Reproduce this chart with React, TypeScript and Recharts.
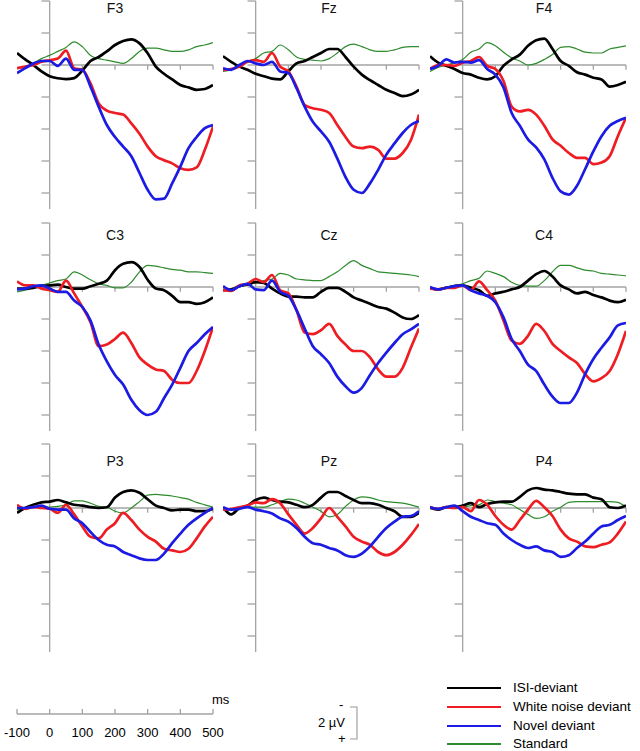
import { LineChart, Line, XAxis, YAxis, ReferenceLine } from "recharts";

// sample times (ms) shared by every panel
const TIMES = [-100, -75, -50, -25, 0, 25, 50, 75, 100, 125, 150, 175, 200, 225, 250, 275, 300, 325, 350, 375, 400, 425, 450, 475, 500];
const Y_TICKS = [-4, -2, 0, 2, 4, 6, 8];
const X_TICKS = [100, 200, 300, 400, 500];
const SCALE_TICKS = [-100, 0, 100, 200, 300, 400, 500];

// µV per electrode, negative plotted up
const F3 = {
  isi: [-0.75, -0.35, 0.0, 0.4, 0.7, 0.83, 0.88, 0.82, 0.35, -0.25, -0.5, -0.85, -1.25, -1.5, -1.6, -1.35, -0.73, 0.1, 0.55, 0.9, 1.25, 1.4, 1.55, 1.5, 1.25],
  white: [0.2, 0.1, 0.0, -0.2, -0.3, -0.4, -0.9, 0.2, 0.3, 1.15, 2.4, 2.85, 3.0, 3.1, 3.65, 4.3, 5.1, 5.7, 5.95, 6.15, 6.45, 6.55, 6.4, 5.3, 3.85],
  novel: [0.5, 0.2, -0.1, -0.25, -0.25, 0.05, -0.4, 0.3, 0.3, 1.35, 2.6, 3.75, 4.5, 5.1, 5.7, 6.75, 7.8, 8.4, 8.35, 7.4, 6.35, 5.2, 4.5, 3.95, 3.75],
  std: [0.5, 0.2, -0.1, -0.4, -0.6, -0.85, -1.1, -1.45, -1.15, -0.6, -0.4, -0.3, -0.2, -0.1, -0.4, -0.85, -1.05, -1.05, -0.95, -0.85, -0.85, -0.95, -1.15, -1.25, -1.4],
};
const Fz = {
  isi: [-0.55, -0.2, 0.1, 0.3, 0.55, 0.7, 0.85, 0.9, 0.4, -0.1, -0.25, -0.5, -0.75, -1.0, -1.0, -0.5, 0.1, 0.6, 0.95, 1.25, 1.55, 1.75, 1.95, 1.85, 1.55],
  white: [0.3, 0.25, 0.1, -0.2, -0.3, -0.2, -0.75, 0.1, 0.4, 1.35, 2.5, 2.7, 2.8, 3.0, 3.75, 4.5, 5.1, 5.2, 5.1, 5.3, 5.85, 5.85, 5.5, 4.7, 3.1],
  novel: [0.2, 0.3, 0.0, -0.25, -0.1, 0.0, -0.2, 0.4, 0.5, 1.45, 2.6, 3.55, 4.15, 4.8, 5.85, 7.0, 7.8, 8.0, 7.4, 6.55, 5.6, 4.9, 4.25, 3.75, 3.5],
  std: [0.4, 0.3, 0.1, -0.2, -0.4, -0.75, -0.85, -1.25, -0.95, -0.5, -0.35, -0.3, -0.25, -0.4, -0.75, -1.15, -1.3, -1.15, -0.95, -0.85, -0.85, -0.95, -1.1, -1.15, -1.15],
};
const F4 = {
  isi: [-0.55, -0.15, 0.05, 0.25, 0.5, 0.6, 0.8, 0.9, 0.7, 0.05, -0.35, -0.65, -1.2, -1.55, -1.65, -1.0, -0.25, 0.05, 0.45, 0.6, 0.8, 0.9, 1.35, 1.25, 1.05],
  white: [0.25, 0.0, 0.0, 0.05, -0.15, -0.25, -0.5, 0.05, 0.25, 1.0, 2.6, 2.9, 2.8, 3.1, 3.8, 4.65, 5.05, 5.5, 5.8, 5.8, 6.2, 6.1, 5.7, 4.45, 3.3],
  novel: [0.25, 0.05, -0.35, -0.15, -0.2, -0.15, -0.3, 0.25, 0.6, 1.4, 3.0, 3.8, 4.65, 5.15, 5.9, 7.05, 7.9, 8.1, 7.55, 6.5, 5.4, 4.45, 3.8, 3.5, 3.3],
  std: [0.4, 0.15, 0.0, -0.15, -0.35, -0.8, -1.0, -1.4, -1.2, -0.8, -0.45, -0.25, 0.0, -0.1, -0.35, -0.65, -1.1, -1.15, -1.0, -0.8, -0.75, -0.75, -1.0, -1.1, -1.2],
};
const C3 = {
  isi: [0.1, 0.1, 0.05, -0.05, -0.1, -0.15, 0.0, 0.1, 0.1, -0.05, -0.2, -0.4, -1.05, -1.45, -1.55, -1.25, -0.45, 0.1, 0.2, 0.55, 0.95, 0.95, 1.05, 0.95, 0.65],
  white: [-0.35, -0.1, -0.1, 0.1, 0.2, 0.3, -0.4, 0.4, 1.25, 2.2, 3.7, 3.6, 3.25, 2.85, 3.5, 4.4, 4.85, 5.15, 5.25, 5.8, 6.0, 6.0, 5.25, 4.0, 2.5],
  novel: [0.15, 0.1, -0.05, -0.1, 0.1, 0.3, 0.3, 0.85, 1.25, 2.1, 3.6, 4.65, 5.5, 6.1, 7.05, 7.7, 8.0, 7.8, 6.95, 6.1, 5.05, 4.0, 3.5, 2.95, 2.5],
  std: [0.3, 0.2, 0.05, -0.1, -0.25, -0.4, -0.5, -0.95, -0.75, -0.45, -0.2, -0.1, 0.05, 0.05, -0.3, -0.95, -1.35, -1.3, -1.2, -1.1, -1.05, -0.95, -0.95, -0.9, -0.85],
};
const Cz = {
  isi: [0.2, 0.15, -0.05, -0.15, -0.3, -0.25, 0.1, 0.4, 0.6, 0.6, 0.65, 0.65, 0.3, 0.05, 0.05, 0.3, 0.65, 0.85, 1.05, 1.25, 1.35, 1.6, 1.9, 2.0, 1.75],
  white: [0.2, 0.25, -0.1, -0.2, -0.5, -0.3, -0.75, 0.2, 0.4, 1.45, 2.85, 2.95, 2.7, 2.3, 3.05, 3.6, 4.0, 4.0, 4.4, 5.15, 5.6, 5.6, 5.05, 3.8, 2.6],
  novel: [-0.05, 0.2, -0.05, -0.2, 0.15, 0.2, -0.4, 0.3, 0.55, 1.45, 2.6, 3.7, 4.2, 4.75, 5.6, 6.2, 6.6, 6.3, 5.5, 4.75, 4.1, 3.5, 2.95, 2.65, 2.3],
  std: [0.15, 0.15, 0.0, -0.15, -0.25, -0.4, -0.5, -0.85, -0.75, -0.5, -0.45, -0.4, -0.4, -0.65, -0.95, -1.35, -1.65, -1.35, -1.15, -0.95, -0.9, -0.85, -0.8, -0.75, -0.65],
};
const C4 = {
  isi: [0.05, 0.15, 0.05, -0.05, -0.1, 0.05, 0.2, 0.55, 0.4, 0.3, 0.15, 0.0, -0.4, -0.8, -1.0, -0.65, -0.1, 0.15, 0.4, 0.3, 0.5, 0.65, 0.85, 0.95, 0.8],
  white: [0.1, 0.15, 0.05, 0.05, -0.1, 0.2, -0.35, 0.2, 0.85, 2.1, 3.35, 3.55, 3.05, 2.3, 2.75, 3.55, 4.0, 4.4, 4.75, 5.45, 5.9, 5.7, 5.25, 4.2, 2.75],
  novel: [0.0, 0.15, 0.05, -0.05, -0.1, 0.2, 0.4, 0.55, 0.95, 1.9, 3.25, 4.0, 4.85, 5.25, 6.1, 6.85, 7.25, 7.25, 6.6, 5.45, 4.5, 3.8, 3.15, 2.4, 2.25],
  std: [0.1, 0.1, 0.0, -0.1, -0.2, -0.4, -0.55, -1.0, -0.85, -0.65, -0.3, -0.1, -0.05, -0.05, -0.4, -0.95, -1.35, -1.35, -1.2, -1.05, -1.0, -0.85, -0.8, -0.75, -0.7],
};
const P3 = {
  isi: [0.3, 0.0, -0.2, -0.35, -0.4, -0.5, -0.35, -0.2, -0.15, -0.05, 0.0, -0.05, -0.65, -1.0, -1.1, -0.95, -0.55, -0.15, 0.0, 0.15, 0.1, 0.1, 0.2, 0.2, 0.05],
  white: [-0.2, 0.05, -0.05, 0.0, 0.05, 0.3, -0.2, 0.4, 1.15, 1.8, 1.9, 1.35, 0.95, 0.3, 0.75, 1.35, 1.8, 2.1, 2.55, 2.65, 2.75, 2.55, 1.9, 1.15, 0.55],
  novel: [0.0, 0.0, -0.05, -0.15, 0.05, 0.1, 0.1, 0.65, 0.95, 1.5, 2.0, 2.3, 2.4, 2.75, 2.95, 3.15, 3.25, 3.25, 2.85, 2.2, 1.6, 1.05, 0.65, 0.3, 0.0],
  std: [0.1, 0.05, -0.05, -0.05, -0.05, -0.1, -0.2, -0.45, -0.45, -0.3, -0.1, -0.05, 0.2, 0.3, 0.0, -0.4, -0.8, -0.85, -0.8, -0.75, -0.65, -0.55, -0.35, -0.2, -0.05],
};
const Pz = {
  isi: [-0.05, 0.4, 0.0, -0.15, -0.5, -0.65, -0.5, -0.4, -0.35, -0.2, -0.05, -0.2, -0.65, -1.0, -1.0, -0.75, -0.5, -0.3, -0.3, -0.2, 0.0, 0.2, 0.55, 0.55, 0.3],
  white: [0.1, 0.05, -0.05, -0.15, -0.35, -0.3, -0.55, -0.3, 0.4, 1.05, 1.6, 1.25, 0.65, 0.0, 0.55, 1.15, 1.8, 2.1, 2.3, 2.75, 2.95, 2.75, 2.3, 1.7, 1.0],
  novel: [-0.05, 0.1, 0.05, -0.05, 0.1, 0.2, 0.35, 0.65, 0.85, 1.25, 1.8, 2.2, 2.3, 2.5, 2.65, 2.95, 3.05, 2.85, 2.4, 1.8, 1.25, 0.85, 0.55, 0.5, 0.2],
  std: [0.1, 0.1, -0.05, -0.05, -0.05, -0.05, -0.2, -0.4, -0.55, -0.5, -0.3, -0.05, 0.2, 0.55, 0.4, -0.1, -0.5, -0.7, -0.65, -0.5, -0.4, -0.35, -0.3, -0.2, -0.05],
};
const P4 = {
  isi: [-0.05, 0.1, -0.05, -0.05, -0.15, -0.3, -0.05, -0.25, -0.35, -0.4, -0.4, -0.7, -1.1, -1.25, -1.15, -1.1, -1.0, -0.9, -0.85, -0.85, -0.65, -0.55, -0.05, 0.0, -0.15],
  white: [-0.05, 0.05, -0.05, 0.0, -0.05, 0.2, -0.5, -0.2, 0.5, 1.05, 1.35, 0.75, 0.1, -0.45, -0.05, 0.5, 1.35, 1.9, 2.1, 2.4, 2.45, 2.3, 2.15, 1.6, 0.85],
  novel: [-0.05, 0.05, -0.05, -0.15, 0.2, 0.55, 0.75, 0.95, 1.05, 1.6, 2.0, 2.3, 2.5, 2.4, 2.65, 2.75, 3.05, 2.95, 2.5, 2.1, 1.6, 1.15, 1.05, 0.75, 0.5],
  std: [0.05, 0.1, -0.05, 0.0, -0.05, -0.15, -0.2, -0.5, -0.4, -0.3, -0.2, 0.1, 0.4, 0.65, 0.55, 0.2, -0.05, -0.35, -0.4, -0.4, -0.4, -0.4, -0.4, -0.35, -0.05],
};

const PANELS: [string, any][] = [
  ["F3", F3], ["Fz", Fz], ["F4", F4],
  ["C3", C3], ["Cz", Cz], ["C4", C4],
  ["P3", P3], ["Pz", Pz], ["P4", P4],
];

// drawing order: standard underneath
const SERIES = [
  { key: "std", name: "Standard", color: "#2e8b2e", width: 1.2 },
  { key: "isi", name: "ISI-deviant", color: "#000000", width: 2.7 },
  { key: "white", name: "White noise deviant", color: "#ee1d23", width: 2.7 },
  { key: "novel", name: "Novel deviant", color: "#1b1be3", width: 2.7 },
];
const LEGEND_ORDER = ["isi", "white", "novel", "std"];

const COL_LEFT = [17, 223, 430];
const ROW_TOP = [1, 223, 444];
const TITLE_X = [115, 329, 544];
const TITLE_Y = [8, 235, 461];

const AXIS = "#a3a3a3";
const FONT = "Arial, 'Liberation Sans', sans-serif";

function Panel({ name, d, left, top, titleX, titleY }: any) {
  const rows = TIMES.map((t, i) => ({ t, isi: d.isi[i], white: d.white[i], novel: d.novel[i], std: d.std[i] }));
  return (
    <>
      <div style={{ position: "absolute", left: left - 5, top: top - 5 }}>
        <LineChart width={206} height={218} data={rows} margin={{ top: 5, right: 5, bottom: 5, left: 5 }}>
          <XAxis type="number" dataKey="t" domain={[-100, 500]} allowDataOverflow hide />
          <YAxis type="number" domain={[-4, 9]} reversed allowDataOverflow hide />
          <ReferenceLine x={0} stroke={AXIS} strokeWidth={1.3} />
          <ReferenceLine segment={[{ x: 0, y: 0 }, { x: 500, y: 0 }]} stroke={AXIS} strokeWidth={1.3} />
          {Y_TICKS.map((v) => (
            <ReferenceLine key={"y" + v} segment={[{ x: -25, y: v }, { x: 0, y: v }]} stroke={AXIS} strokeWidth={1.3} />
          ))}
          {X_TICKS.map((t) => (
            <ReferenceLine key={"x" + t} segment={[{ x: t, y: 0 }, { x: t, y: 0.3 }]} stroke={AXIS} strokeWidth={1.3} />
          ))}
          {SERIES.map((s) => (
            <Line
              key={s.key}
              dataKey={s.key}
              type="monotone"
              stroke={s.color}
              strokeWidth={s.width}
              dot={false}
              activeDot={false}
              isAnimationActive={false}
            />
          ))}
        </LineChart>
      </div>
      <div
        style={{
          position: "absolute",
          left: titleX - 20,
          top: titleY - 8,
          width: 40,
          lineHeight: "16px",
          textAlign: "center",
          fontSize: 14,
          fontFamily: FONT,
          color: "#111",
        }}
      >
        {name}
      </div>
    </>
  );
}

export default function App() {
  const scaleData = SCALE_TICKS.map((t) => ({ t }));
  return (
    <div style={{ position: "relative", width: 640, height: 751, background: "#fff", fontFamily: FONT, overflow: "hidden" }}>
      <style>{"body{margin:0}"}</style>
      {PANELS.map(([name, d], i) => (
        <Panel
          key={name}
          name={name}
          d={d}
          left={COL_LEFT[i % 3]}
          top={ROW_TOP[Math.floor(i / 3)]}
          titleX={TITLE_X[i % 3]}
          titleY={TITLE_Y[Math.floor(i / 3)]}
        />
      ))}

      {/* time scale */}
      <div style={{ position: "absolute", left: 0, top: 699 }}>
        <LineChart width={240} height={45} data={scaleData} margin={{ top: 5, right: 27, bottom: 0, left: 17 }}>
          <XAxis
            type="number"
            dataKey="t"
            domain={[-100, 500]}
            ticks={SCALE_TICKS}
            interval={0}
            allowDataOverflow
            height={30}
            tickLine={false}
            tickMargin={8}
            axisLine={{ stroke: AXIS, strokeWidth: 1.3 }}
            tick={{ fontSize: 13, fill: "#000", fontFamily: FONT }}
          />
          <YAxis type="number" domain={[0, 1]} allowDataOverflow hide />
          {SCALE_TICKS.map((t) => (
            <ReferenceLine key={"s" + t} segment={[{ x: t, y: 0 }, { x: t, y: 0.5 }]} stroke={AXIS} strokeWidth={1.3} />
          ))}
        </LineChart>
      </div>
      <div style={{ position: "absolute", left: 212, top: 692, fontSize: 13, lineHeight: "16px" }}>ms</div>

      {/* 2 µV scale bar */}
      <div style={{ position: "absolute", left: 318, top: 715, fontSize: 13, lineHeight: "16px" }}>2 µV</div>
      <div style={{ position: "absolute", left: 339, top: 697, fontSize: 13, lineHeight: "16px" }}>-</div>
      <div style={{ position: "absolute", left: 338, top: 731, fontSize: 13, lineHeight: "16px" }}>+</div>
      <svg style={{ position: "absolute", left: 345, top: 700 }} width={20} height={46}>
        <polyline points="5,7 12,7 12,39 5,39" fill="none" stroke="#999" strokeWidth={1.1} />
      </svg>

      {/* legend */}
      <div style={{ position: "absolute", left: 447, top: 679 }}>
        {LEGEND_ORDER.map((k) => {
          const s = SERIES.find((x) => x.key === k)!;
          return (
            <div key={k} style={{ display: "flex", alignItems: "center", height: 18.7 }}>
              <svg width={54} height={18}>
                <line x1={0} y1={9} x2={54} y2={9} stroke={s.color} strokeWidth={1.8} />
              </svg>
              <span style={{ marginLeft: 12, fontSize: 13.5, lineHeight: "14px", whiteSpace: "nowrap" }}>{s.name}</span>
            </div>
          );
        })}
      </div>
    </div>
  );
}
